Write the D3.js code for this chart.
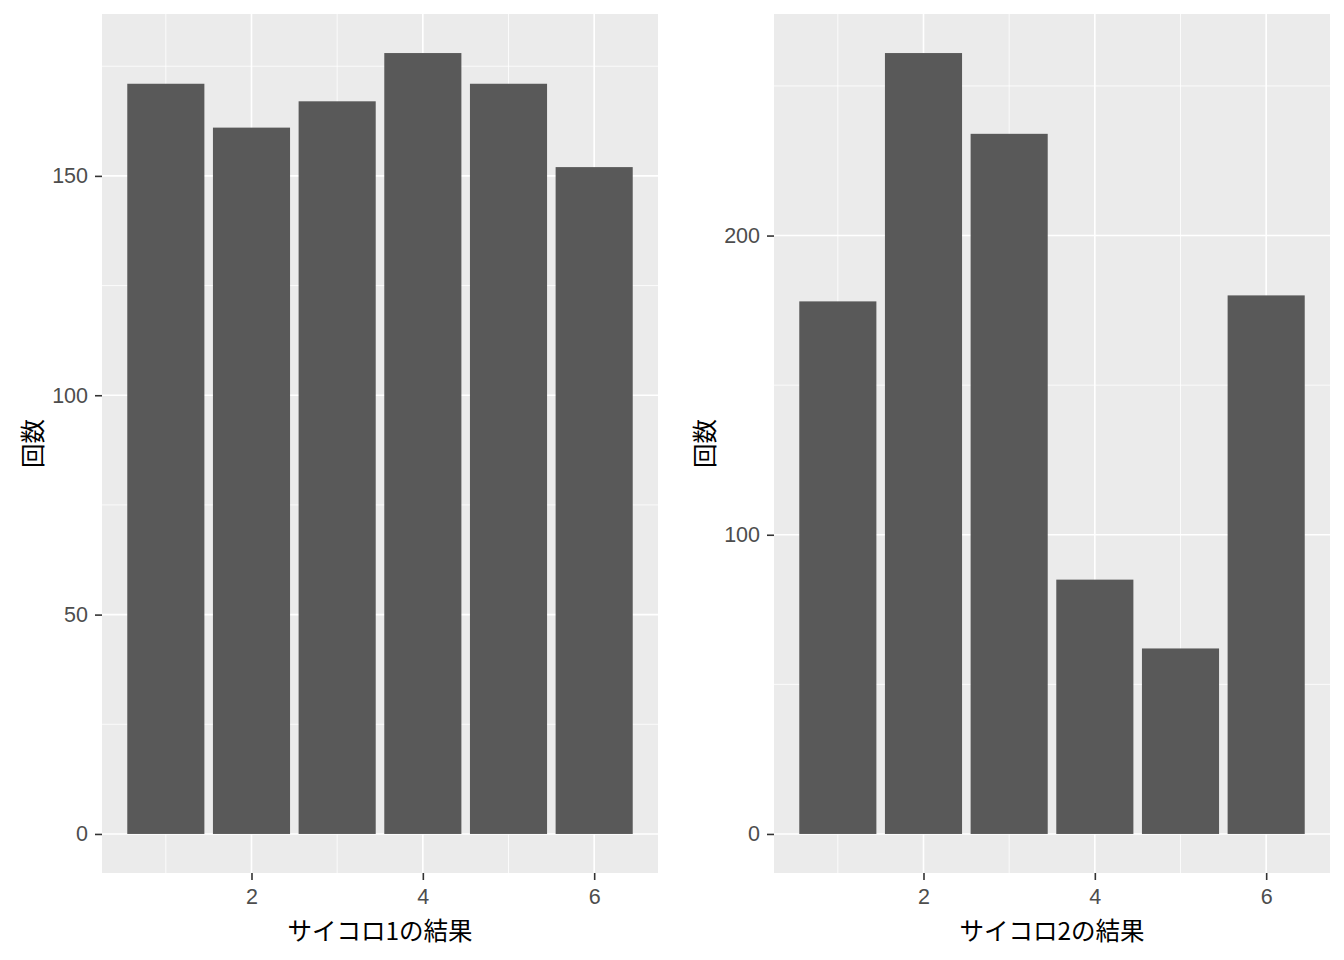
<!DOCTYPE html>
<html>
<head>
<meta charset="utf-8">
<script src="https://cdn.jsdelivr.net/npm/d3@7"></script>
<style>
  body { margin: 0; background: #fff; }
  svg { display: block; }
</style>
</head>
<body>
<svg id="chart" width="1344" height="960"></svg>
<script>
const categories = [1, 2, 3, 4, 5, 6];
const dice1Counts = [171, 161, 167, 178, 171, 152];
const dice2Counts = [178, 261, 234, 85, 62, 180];
const xTickValues = [2, 4, 6];
const xMinorValues = [1, 3, 5];
const y1Ticks = [0, 50, 100, 150];
const y1Minor = [25, 75, 125, 175];
const y2Ticks = [0, 100, 200];
const y2Minor = [50, 150, 250];
const yTitle = "回数";
const xTitle1 = "サイコロ1の結果";
const xTitle2 = "サイコロ2の結果";

const svg = d3.select("#chart");
const numFont = "'Liberation Sans', Arial, sans-serif";
const jpFont = "'Noto Sans CJK JP', sans-serif";

function panel(offsetX, values, majors, minors, xTitle) {
  const left = offsetX + 102, right = offsetX + 658, top = 14, bottom = 873;
  const barW = 0.9;
  const xmin = 1 - barW / 2, xmax = 6 + barW / 2;
  const xpad = (xmax - xmin) * 0.05;
  const x = d3.scaleLinear().domain([xmin - xpad, xmax + xpad]).range([left, right]);
  const ymax = d3.max(values);
  const ypad = ymax * 0.05;
  const y = d3.scaleLinear().domain([-ypad, ymax + ypad]).range([bottom, top]);

  const g = svg.append("g");
  g.append("rect").attr("x", left).attr("y", top)
    .attr("width", right - left).attr("height", bottom - top).attr("fill", "#EBEBEB");

  // minor grid
  g.selectAll(".ymin").data(minors).join("line")
    .attr("x1", left).attr("x2", right)
    .attr("y1", d => y(d)).attr("y2", d => y(d))
    .attr("stroke", "#fff").attr("stroke-width", 0.8);
  g.selectAll(".xmin").data(xMinorValues).join("line")
    .attr("y1", top).attr("y2", bottom)
    .attr("x1", d => x(d)).attr("x2", d => x(d))
    .attr("stroke", "#fff").attr("stroke-width", 0.8);
  // major grid
  g.selectAll(".ymaj").data(majors).join("line")
    .attr("x1", left).attr("x2", right)
    .attr("y1", d => y(d)).attr("y2", d => y(d))
    .attr("stroke", "#fff").attr("stroke-width", 1.6);
  g.selectAll(".xmaj").data(xTickValues).join("line")
    .attr("y1", top).attr("y2", bottom)
    .attr("x1", d => x(d)).attr("x2", d => x(d))
    .attr("stroke", "#fff").attr("stroke-width", 1.6);

  // bars
  g.selectAll(".bar").data(values).join("rect")
    .attr("x", (d, i) => x(categories[i] - barW / 2))
    .attr("width", (d, i) => x(categories[i] + barW / 2) - x(categories[i] - barW / 2))
    .attr("y", d => y(d))
    .attr("height", d => y(0) - y(d))
    .attr("fill", "#595959");

  // axes
  const yAxis = d3.axisLeft(y).tickValues(majors).tickFormat(d3.format("d")).tickSize(7).tickPadding(7);
  const ya = g.append("g").attr("transform", `translate(${left},0)`).call(yAxis);
  ya.select(".domain").remove();
  ya.selectAll(".tick line").attr("stroke", "#333333").attr("stroke-width", 1.6);
  ya.selectAll(".tick text").attr("fill", "#4D4D4D")
    .attr("font-family", numFont).attr("font-size", 21.5)
    .style("font-family", numFont).style("font-size", "21.5px");

  const xAxis = d3.axisBottom(x).tickValues(xTickValues).tickFormat(d3.format("d")).tickSize(7).tickPadding(9);
  const xa = g.append("g").attr("transform", `translate(0,${bottom})`).call(xAxis);
  xa.select(".domain").remove();
  xa.selectAll(".tick line").attr("stroke", "#333333").attr("stroke-width", 1.6);
  xa.selectAll(".tick text").attr("fill", "#4D4D4D")
    .attr("font-family", numFont).attr("font-size", 21.5)
    .style("font-family", numFont).style("font-size", "21.5px");

  g.append("text")
    .attr("x", (left + right) / 2).attr("y", 929)
    .attr("text-anchor", "middle").attr("dominant-baseline", "central")
    .style("font-family", jpFont).style("font-size", "24.5px").attr("fill", "#000")
    .text(xTitle);

  g.append("text")
    .attr("transform", `translate(${offsetX + 31},${(top + bottom) / 2}) rotate(-90)`)
    .attr("text-anchor", "middle").attr("dominant-baseline", "central")
    .style("font-family", jpFont).style("font-size", "24.5px").attr("fill", "#000")
    .text(yTitle);
}

panel(0, dice1Counts, y1Ticks, y1Minor, xTitle1);
panel(672, dice2Counts, y2Ticks, y2Minor, xTitle2);
</script>
</body>
</html>
